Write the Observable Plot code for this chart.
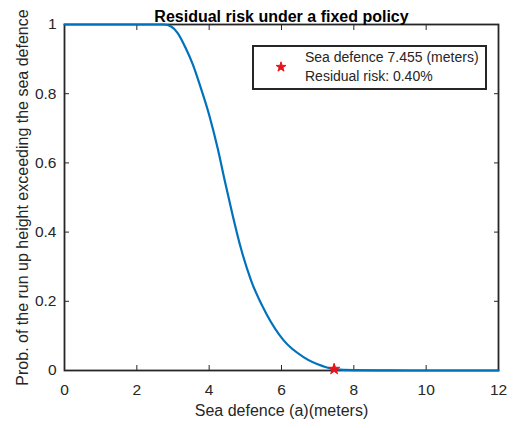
<!DOCTYPE html>
<html><head><meta charset="utf-8">
<script src="https://cdn.jsdelivr.net/npm/d3@7"></script>
<script src="https://cdn.jsdelivr.net/npm/@observablehq/plot@0.6"></script>
<style>
body{margin:0;background:#fff;}
#wrap{position:relative;width:532px;height:428px;font-family:"Liberation Sans",Arial,sans-serif;}
#legend{position:absolute;left:252px;top:45px;width:235px;height:45px;box-sizing:border-box;border:2px solid #262626;background:#fff;font-size:14px;line-height:19px;color:#262626;}
#legend .txt{position:absolute;left:51px;top:1px;white-space:nowrap;}
#legend svg{position:absolute;left:21px;top:14px;}
</style></head><body><div id="wrap"></div>
<script>
const titleText = "Residual risk under a fixed policy";
const xLabel = "Sea defence (a)(meters)";
const yLabel = "Prob. of the run up height exceeding the sea defence";
const xTicks = [0, 2, 4, 6, 8, 10, 12];
const yTicks = [0, 0.2, 0.4, 0.6, 0.8, 1];
const riskX = [0, 1, 2, 2.5, 2.75, 2.95, 3.13, 3.35, 3.55, 3.74, 4.01, 4.24, 4.43, 4.64, 4.87, 5.16, 5.58, 6.06, 6.62, 7.16, 7.455, 8, 9, 10, 11, 12];
const riskY = [1, 1, 1, 1, 1, 0.994, 0.975, 0.932, 0.884, 0.826, 0.735, 0.64, 0.549, 0.453, 0.356, 0.26, 0.164, 0.087, 0.038, 0.012, 0.004, 0.0008, 0.0001, 0, 0, 0];
const policyX = [7.455];
const policyY = [0.004];
const legendLines = ["Sea defence 7.455 (meters)", "Residual risk: 0.40%"];

const curve = riskX.map((x, i) => ({x, y: riskY[i]}));
const policy = policyX.map((x, i) => ({x, y: policyY[i]}));
const ink = "#262626";
const blue = "#0072BD";

const plot = Plot.plot({
  width: 532, height: 428,
  marginLeft: 64, marginRight: 34, marginTop: 24, marginBottom: 58,
  style: {fontFamily: '"Liberation Sans", Arial, sans-serif', fontSize: "15.5px", color: ink, background: "#fff"},
  x: {domain: [0, 12]},
  y: {domain: [0, 1]},
  marks: [
    Plot.frame({stroke: ink, strokeWidth: 1.8}),
    // inward ticks
    Plot.axisX(xTicks, {anchor: "bottom", tickSize: 5, dy: -5, fill: "none", label: null, stroke: ink}),
    Plot.axisX(xTicks, {anchor: "top", tickSize: 5, dy: 5, fill: "none", label: null, stroke: ink}),
    Plot.axisY(yTicks, {anchor: "left", tickSize: 5, dx: 5, fill: "none", label: null, stroke: ink}),
    Plot.axisY(yTicks, {anchor: "right", tickSize: 5, dx: -5, fill: "none", label: null, stroke: ink}),
    // tick labels
    Plot.axisX(xTicks, {anchor: "bottom", tickSize: 0, tickPadding: 13, label: null, fill: ink, fontSize: 15.5}),
    Plot.axisY(yTicks, {anchor: "left", tickSize: 0, tickPadding: 8, label: null, fill: ink, fontSize: 15.5, tickFormat: d => String(d)}),
    // labels and title
    Plot.text([xLabel], {frameAnchor: "bottom", dy: 45, fill: ink, fontSize: 16}),
    Plot.text([yLabel], {frameAnchor: "left", textAnchor: "middle", dx: -42, rotate: -90, fill: ink, fontSize: 16}),
    Plot.text([titleText], {frameAnchor: "top", dy: -13.8, fill: "#000", fontSize: 16, fontWeight: "bold"}),
    // data
    Plot.line(curve, {x: "x", y: "y", stroke: blue, strokeWidth: 2.2, curve: "monotone-x"}),
    Plot.dot(policy, {x: "x", y: "y", symbol: "star", fill: "#e8141c", stroke: "#e8141c", strokeWidth: 1, r: 3.5})
  ]
});
const wrap = document.getElementById("wrap");
wrap.appendChild(plot);

const legend = document.createElement("div");
legend.id = "legend";
const star = d3.create("svg").attr("width", 12).attr("height", 12);
star.append("path").attr("transform", "translate(6,6)")
  .attr("d", d3.symbol(d3.symbolStar, 30)()).attr("fill", "#e8141c").attr("stroke", "#e8141c");
legend.appendChild(star.node());
const txt = document.createElement("div");
txt.className = "txt";
txt.innerHTML = legendLines.join("<br>");
legend.appendChild(txt);
wrap.appendChild(legend);
</script>
</body></html>
